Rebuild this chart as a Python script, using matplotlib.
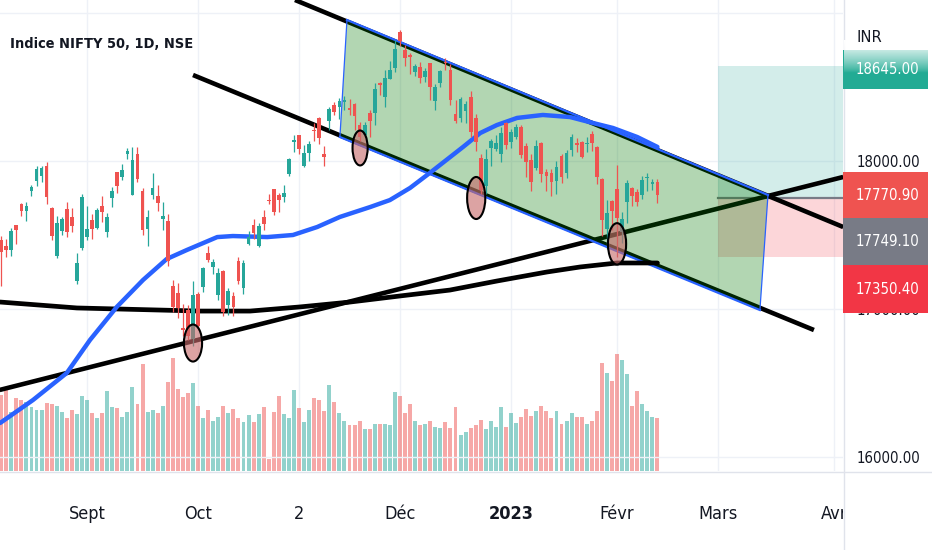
import numpy as np
import matplotlib
matplotlib.use("Agg")
import matplotlib.pyplot as plt
from matplotlib import font_manager as fm
from matplotlib.patches import Rectangle, Ellipse, Polygon
from matplotlib.lines import Line2D
from matplotlib.transforms import blended_transform_factory, Bbox, TransformedBbox

# ---------------- data (NIFTY 50 daily, bar index 0 = 1 Sept 2022) ----------------
first_bar = -17

opens = [
    17463, 17423, 17401, 17566, 17712, 17659, 17797, 17868, 17898, 17966, 17682, 17357, 17525, 17679, 17619, 17188, 17414,
    17486, 17598, 17546, 17695, 17519, 17748, 17923, 17890, 18045, 17771, 18047, 17797, 17541, 17770, 17766, 17609, 17593, 17156, 17110, 16870, 16993, 16799,
    17102, 17147, 17379, 17287, 17094, 17256, 17025, 17087, 17322, 17144, 17438, 17568, 17423, 17622, 17736, 17809, 17771, 17756, 17910,
    18130, 18177, 17968, 18053, 18211, 18288, 18044, 18272, 18376, 18362, 18398, 18358, 18382, 18246, 18179, 18326, 18326, 18528, 18430, 18552, 18625,
    18871, 18752, 18719, 18601, 18638, 18570, 18662, 18402, 18525, 18671, 18614, 18320, 18289, 18340, 18435, 18288, 18017, 17830, 18089, 18084, 18045, 18260,
    18131, 18163, 18230, 18102, 18009, 17952, 18122, 17924, 17920, 17868, 18033, 17922, 18074, 18120, 18128, 18118, 18184, 18093, 17877, 17541, 17731,
    17811, 17517, 17721, 17818, 17790, 17770, 17886, 17847, 17859]
highs = [
    17490, 17474, 17548, 17566, 17719, 17724, 17839, 17965, 17969, 17992, 17690, 17625, 17623, 17726, 17685, 17380, 17777,
    17695, 17643, 17683, 17764, 17650, 17825, 17925, 17980, 18088, 18092, 18096, 17820, 17667, 17919, 17838, 17722, 17642, 17196, 17176, 17037, 17026, 17188,
    17115, 17287, 17428, 17337, 17280, 17261, 17142, 17112, 17349, 17328, 17527, 17607, 17584, 17670, 17777, 17811, 17783, 17838, 18023,
    18176, 18178, 18106, 18135, 18256, 18296, 18103, 18363, 18399, 18427, 18442, 18417, 18394, 18262, 18261, 18345, 18530, 18534, 18614, 18678, 18816,
    18888, 18781, 18728, 18654, 18668, 18625, 18664, 18521, 18617, 18696, 18652, 18410, 18432, 18405, 18473, 18318, 18050, 18084, 18149, 18174, 18230, 18265,
    18215, 18251, 18244, 18120, 18047, 18141, 18128, 17944, 17945, 17999, 18050, 18072, 18184, 18155, 18132, 18162, 18202, 18100, 17884, 17735, 17736,
    17972, 17653, 17870, 17823, 17811, 17898, 17916, 17876, 17880]
lows = [
    17154, 17348, 17359, 17442, 17631, 17597, 17764, 17833, 17861, 17710, 17467, 17345, 17499, 17487, 17519, 17166, 17401,
    17468, 17476, 17540, 17587, 17484, 17691, 17786, 17870, 18015, 17771, 17861, 17497, 17429, 17744, 17663, 17532, 17291, 16979, 16942, 16820, 16789, 16748,
    16855, 17117, 17315, 17238, 17064, 16950, 16960, 16956, 17169, 17098, 17434, 17472, 17422, 17532, 17707, 17637, 17654, 17723, 17900,
    18060, 18049, 17959, 18000, 18136, 18116, 17969, 18209, 18311, 18282, 18344, 18312, 18209, 18133, 18159, 18162, 18246, 18445, 18365, 18552, 18604,
    18778, 18640, 18591, 18577, 18528, 18537, 18410, 18346, 18500, 18612, 18375, 18255, 18265, 18255, 18163, 18068, 17780, 17774, 17967, 18068, 17993, 18080,
    18087, 18149, 18021, 17892, 17795, 17936, 17856, 17800, 17761, 17774, 17853, 17886, 18032, 18063, 18017, 18063, 18070, 17846, 17493, 17405, 17537,
    17353, 17446, 17584, 17699, 17696, 17744, 17800, 17801, 17719]
closes = [
    17382, 17398, 17525, 17535, 17659, 17698, 17825, 17944, 17956, 17758, 17491, 17578, 17605, 17523, 17559, 17313, 17759,
    17542, 17539, 17666, 17655, 17624, 17798, 17833, 17936, 18070, 18004, 17877, 17531, 17622, 17816, 17718, 17630, 17327, 17016, 17007, 16858, 16818, 17094,
    16887, 17274, 17331, 17315, 17241, 16983, 17124, 17014, 17186, 17312, 17486, 17512, 17564, 17576, 17731, 17656, 17737, 17787, 18012,
    18145, 18083, 18053, 18117, 18202, 18157, 18028, 18350, 18329, 18403, 18410, 18343, 18307, 18160, 18244, 18267, 18484, 18513, 18562, 18618, 18758,
    18812, 18696, 18701, 18642, 18560, 18609, 18497, 18497, 18608, 18660, 18414, 18269, 18420, 18385, 18199, 18127, 17807, 18015, 18132, 18123, 18191, 18105,
    18197, 18233, 18043, 17992, 17859, 18101, 17914, 17896, 17858, 17957, 17895, 18053, 18165, 18108, 18028, 18119, 18119, 17892, 17604, 17649, 17662,
    17616, 17610, 17854, 17765, 17721, 17872, 17893, 17856, 17770.9]
volumes = [
    228, 248, 178, 218, 213, 208, 193, 183, 183, 203, 201, 196, 178, 158, 183, 171, 225,
    213, 175, 158, 175, 241, 193, 188, 163, 178, 251, 201, 321, 178, 183, 173, 196, 266, 338, 246, 221, 233, 263,
    196, 158, 183, 150, 163, 196, 175, 185, 158, 146, 168, 146, 171, 193, 35, 176, 225, 171, 158,
    243, 188, 146, 183, 218, 213, 181, 258, 208, 175, 151, 138, 137, 150, 125, 125, 141, 141, 141, 137, 237,
    224, 175, 200, 150, 137, 141, 150, 132, 129, 146, 129, 191, 108, 116, 129, 137, 154, 125, 150, 133, 191, 133,
    175, 145, 162, 187, 166, 179, 195, 179, 158, 179, 141, 150, 175, 162, 162, 141, 150, 179, 325, 295, 271,
    350, 333, 292, 195, 241, 200, 179, 162, 158]

ma50_x = [-17.2, -10.7, -4.0, 0.6, 5.9, 11.1, 15.8, 19.8, 25.8, 28.9, 35.7, 40.8, 45.6, 50.1, 56.1, 60.0,
          64.0, 67.9, 74.5, 77.9, 81.2, 85.2, 90.3, 95.7, 100.2, 104.2, 109.0, 113.0]
ma50_y = [16230, 16385, 16568, 16791, 17014, 17196, 17338, 17399, 17486, 17493, 17486, 17500, 17554, 17622, 17689, 17736,
          17818, 17919, 18095, 18189, 18243, 18291, 18311, 18297, 18257, 18223, 18162, 18095]
ma200_x = [-17.2, -2.0, 22.4, 32.3, 42.2, 52.1, 62.0, 71.9, 81.2, 91.1, 97.7, 105.0, 113.0]
ma200_y = [17047, 17007, 16986, 16986, 17014, 17047, 17088, 17128, 17189, 17250, 17284, 17311, 17311]

month_ticks = [0, 22, 42, 62, 84, 105, 125, 148]
month_labels = ['Sept', 'Oct', '2', 'Déc', '2023', 'Févr', 'Mars', 'Avr']
price_ticks = [16000, 17000, 18000]
grid_prices = [16000, 17000, 18000, 19000]

last_price = 17770.90
entry_price = 17749.10
stop_price = 17350.40
target_price = 18645.00
title = 'Indice NIFTY 50, 1D, NSE'

# ---------------- figure ----------------
W, H = 932, 550
fig = plt.figure(figsize=(W / 100, H / 100), dpi=100)
fig.patch.set_facecolor('white')
PLOT_R, PLOT_B = 843, 471
rect = [0, 1 - PLOT_B / H, PLOT_R / W, PLOT_B / H]

def fx(px):
    return px / W

def fy(py):
    return 1 - py / H

# fonts: prefer a condensed face
def _weight(f):
    w = f.weight
    if isinstance(w, str):
        w = fm.weight_dict.get(w, 400)
    return w

def pick_font(weight):
    best = None
    for f in fm.fontManager.ttflist:
        nm = (f.name + ' ' + f.fname).lower()
        narrow = ('condensed' in nm or 'narrow' in nm or
                  str(f.stretch) in ('condensed', 'semi-condensed', 'extra-condensed', 'ultra-condensed'))
        if not narrow or f.style != 'normal' or 'italic' in nm or 'oblique' in nm or 'mono' in nm:
            continue
        if 'serif' in nm and 'sans' not in nm:
            continue
        score = abs(_weight(f) - weight)
        if 'extra' in nm or 'ultra' in nm:
            score += 60
        if best is None or score < best[0]:
            best = (score, f.fname)
    if best is not None:
        return fm.FontProperties(fname=best[1])
    return fm.FontProperties(family='Roboto', weight=weight)

fp_reg = pick_font(400)
fp_bold = pick_font(700)
renderer = fig.canvas.get_renderer()

def sized(fp, size):
    p = fp.copy()
    p.set_size(size)
    return p

def fit(fp, s, target_w, max_pt):
    t = fig.text(0, 0, s, fontproperties=sized(fp, 10))
    w = t.get_window_extent(renderer).width
    t.remove()
    return min(10 * target_w / w, max_pt)

fs_tick = fit(fp_reg, '18000.00', 64, 16)
fs_time = fit(fp_reg, 'Mars', 39, 15)
fs_title = fit(fp_bold, title, 182, 20)
TXT = '#131722'

vax = fig.add_axes(rect)
ax = fig.add_axes(rect, sharex=vax)
ax.patch.set_alpha(0)
for a in (ax, vax):
    for s in a.spines.values():
        s.set_visible(False)
vax.set_yticks([])
vax.tick_params(axis='x', length=0, labelbottom=False)

ax.set_xlim(-17.235, 149.76)
ax.set_ylim(15905.4, 19087.8)
vax.set_ylim(0, 1413)

# grid
for m in month_ticks:
    vax.axvline(m, color='#eef1f7', lw=1.0, zorder=0)
for g in grid_prices:
    ax.axhline(g, color='#eef1f7', lw=1.0, zorder=0)

idx = np.arange(first_bar, first_bar + len(closes))
o = np.array(opens, float); c = np.array(closes, float)
hi = np.array(highs, float); lo = np.array(lows, float)
up = c >= o
UP, DN = '#26a69a', '#ef5350'
colors = np.where(up, UP, DN)

# volume
vax.bar(idx, volumes, width=0.78, color=colors, alpha=0.5, linewidth=0, zorder=1)

# position tool (long)
xr = 152
ax.add_patch(Rectangle((125, entry_price), xr - 125, target_price - entry_price,
                       facecolor='#26a69a', alpha=0.2, lw=0, zorder=1))
ax.add_patch(Rectangle((125, stop_price), xr - 125, entry_price - stop_price,
                       facecolor='#f23645', alpha=0.2, lw=0, zorder=1))
ax.plot([125, xr], [entry_price, entry_price], color='#787b86', lw=1.6, zorder=1.5)

# black trend lines
blk = dict(color='black', lw=3.3, solid_capstyle='butt', zorder=2)
ax.plot([41.2, 149.8], [19088, 17554], **blk)
ax.plot([21.0, 144.0], [18581, 16858], **blk)
ax.plot([-17.3, 149.8], [16453, 17892], **blk)

# parallel channel
chan = [(51.5, 18952.7), (134.9, 17770.3), (133.3, 16993), (50.1, 18162)]
ax.add_patch(Polygon(chan, closed=True, facecolor=(0, 0.47, 0), alpha=0.3, lw=0, zorder=3))
for (x0, y0), (x1, y1), lw in [(chan[0], chan[1], 1.6), (chan[1], chan[2], 0.9),
                              (chan[2], chan[3], 1.6), (chan[3], chan[0], 0.9)]:
    ax.plot([x0, x1], [y0, y1], color='#2962ff', lw=lw, zorder=3.5)

# moving averages
ax.plot(ma200_x, ma200_y, color='black', lw=3.4, zorder=4, solid_capstyle='round')
ax.plot(ma50_x, ma50_y, color='#2962ff', lw=3.2, zorder=4.2, solid_capstyle='round')

# candles
ax.vlines(idx, lo, hi, colors=colors, lw=0.9, zorder=5)
ax.bar(idx, np.maximum(np.abs(c - o), 4), bottom=np.minimum(o, c), width=0.74,
       color=colors, lw=0, zorder=5.1)

# circled touches
for (ex, ey, ew, eh) in [(21.0, 16770, 3.6, 250), (54.1, 18088, 3.0, 236),
                         (77.1, 17750, 3.6, 284), (105.0, 17440, 3.6, 280)]:
    ax.add_patch(Ellipse((ex, ey), ew, eh, facecolor=(0.78, 0.42, 0.42, 0.62),
                         edgecolor='black', lw=1.5, zorder=6))

# axis ticks
ax.set_xticks([])
ax.yaxis.tick_right()
ax.set_yticks(price_ticks, labels=[f'{p:.2f}' for p in price_ticks])
ax.tick_params(axis='y', length=0, pad=10.1, labelcolor=TXT)
for lbl in ax.get_yticklabels():
    lbl.set_fontproperties(sized(fp_reg, fs_tick))

# time labels
tr = blended_transform_factory(ax.transData, fig.transFigure)
clip = TransformedBbox(Bbox([[0, 0], [PLOT_R / W, 1]]), fig.transFigure)
for m, lab in zip(month_ticks, month_labels):
    fp = fp_bold if lab == '2023' else fp_reg
    t = ax.text(m, fy(514), lab, transform=tr, ha='center', va='center',
                fontproperties=sized(fp, fs_time), color=TXT, clip_on=True)
    t.set_clip_box(clip)

# separators
fig.add_artist(Line2D([fx(PLOT_R + 0.5)] * 2, [0, 1], color='#e0e3eb', lw=1))
fig.add_artist(Line2D([0, 1], [fy(PLOT_B + 0.5)] * 2, color='#e0e3eb', lw=1))

# title
fig.text(fx(10), fy(44), title, ha='left', va='center',
         fontproperties=sized(fp_bold, fs_title), color=TXT)

# price-scale labels
def plabel(val, y0, y1, color):
    fig.add_artist(Rectangle((fx(PLOT_R), fy(y1)), fx(928) - fx(PLOT_R), fy(y0) - fy(y1),
                             transform=fig.transFigure, facecolor=color, lw=0, zorder=10))
    fig.text(fx(856), fy((y0 + y1) / 2), f'{val:.2f}', ha='left', va='center',
             fontproperties=sized(fp_reg, fs_tick), color='white', zorder=11)

plabel(target_price, 50, 89, '#22ab94')
plabel(last_price, 172, 218, '#ef5350')
plabel(entry_price, 218, 265, '#787b86')
plabel(stop_price, 265, 313, '#f23645')

# white fade over the target label
gax = fig.add_axes([fx(PLOT_R + 1), fy(73), fx(932) - fx(PLOT_R + 1), fy(40) - fy(73)], zorder=12)
grad = np.ones((60, 1, 4))
grad[..., 3] = np.linspace(1, 0, 60)[:, None] ** 0.8
gax.imshow(grad, aspect='auto', interpolation='bilinear')
gax.axis('off')
fig.text(fx(856), fy(38), 'INR', ha='left', va='center',
         fontproperties=sized(fp_reg, fs_tick * 1.1), color=TXT, zorder=13)

fig.savefig('out.png', dpi=100, facecolor='white')
